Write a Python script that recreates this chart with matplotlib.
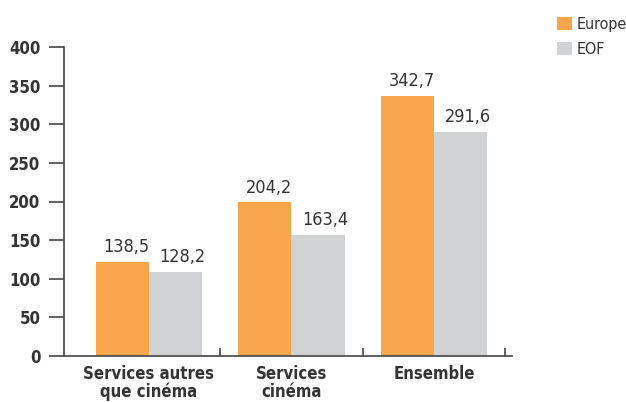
import numpy as np
from matplotlib import pyplot as plt, rcParams as rcP

# Données
categories = ["Services autres\nque cinéma", "Services\ncinéma", "Ensemble"]
europe = [121.7, 199.0, 336.6]
eof = [108.7, 156.6, 290.0]
europe_labels = ["138,5", "204,2", "342,7"]
eof_labels = ["128,2", "163,4", "291,6"]
yticks = [0, 50, 100, 150, 200, 250, 300, 350, 400]

# Police étroite (DejaVu Sans Condensed)
rcP["font.family"] = ["DejaVu Sans"]
rcP["font.stretch"] = "condensed"

orange = "#F7A64B"
gris = "#D1D2D4"
texte = "#333333"

fig = plt.figure(figsize=(6.26, 4.03), dpi=100)
ax = fig.add_axes([64 / 626, 47 / 403, 448 / 626, 309 / 403])

x = np.arange(len(categories))
w = 0.372
ax.bar(x - w / 2, europe, w, color=orange, label="Europe")
ax.bar(x + w / 2, eof, w, color=gris, label="EOF")

# Étiquettes de valeurs
for xi, h, lab in zip(x - w / 2, europe, europe_labels):
    ax.annotate(lab, (xi, h), xytext=(3, 4), textcoords="offset points",
                ha="center", va="bottom", fontsize=13, color=texte)
for xi, h, lab in zip(x + w / 2, eof, eof_labels):
    ax.annotate(lab, (xi, h), xytext=(5, 4), textcoords="offset points",
                ha="center", va="bottom", fontsize=13, color=texte)

ax.set_xlim(-0.596, 2.547)
ax.set_ylim(0, 400)
ax.set_yticks(yticks)
ax.set_yticklabels([str(t) for t in yticks], fontsize=12, fontweight="bold", color=texte)
ax.tick_params(axis="y", length=11, width=1.2, color="#444444", pad=6)

ax.set_xticks([0.5, 1.5, 2.5])
ax.set_xticklabels([])
ax.tick_params(axis="x", direction="in", length=6, width=1.2, color="#444444")
for xi, cat in zip(x, categories):
    ax.text(xi, -12, cat, ha="center", va="top", fontsize=12, fontweight="bold",
            color=texte, linespacing=0.95)

for s in ["top", "right"]:
    ax.spines[s].set_visible(False)
for s in ["left", "bottom"]:
    ax.spines[s].set_color("#444444")
    ax.spines[s].set_linewidth(1.2)

fig.legend(loc="upper left", bbox_to_anchor=(555 / 626, 1 - 15 / 403), frameon=False,
           fontsize=11.5, handlelength=0.95, handleheight=0.95, handletextpad=0.3,
           labelspacing=0.6, labelcolor=texte, borderaxespad=0, borderpad=0.1)

fig.savefig("out.png", dpi=100)
